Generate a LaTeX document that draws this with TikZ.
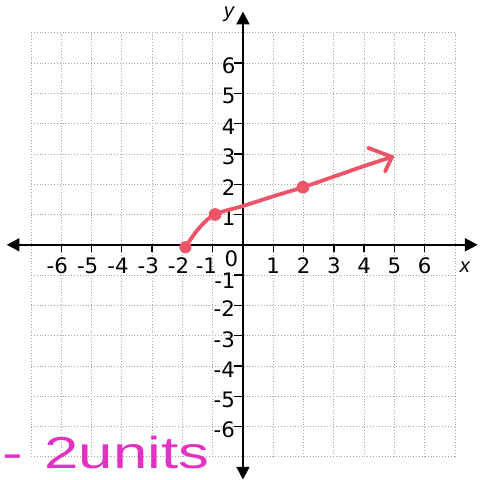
\documentclass[tikz,border=0pt]{standalone}
\usepackage{fontspec}
\setmainfont{DejaVu Sans}
\newfontfamily\handfont{Liberation Sans}
\usetikzlibrary{arrows.meta}
\definecolor{penred}{RGB}{238,84,104}
\definecolor{penpink}{RGB}{226,50,196}
\begin{document}
\begin{tikzpicture}[
  gridline/.style={gray!70, dotted, line width=0.7pt},
  axis/.style={black, line width=2.2pt, -{Triangle[length=12pt,width=12pt]}},
  tickmark/.style={black, line width=1.3pt},
  lbl/.style={font=\fontsize{20}{20}\selectfont, inner sep=0pt},
  pen/.style={penred, line width=3.6pt, line cap=round, line join=round},
  pendot/.style={fill=penred, draw=none}
]
\useasboundingbox (-8.02,-7.76) rectangle (7.89,8.08);
% grid
\foreach \k in {-7,...,7} {
  \draw[gridline] (\k,-7) -- (\k,7);
  \draw[gridline] (-7,\k) -- (7,\k);
}
% axes
\coordinate (o) at (0,0);
\coordinate (xl) at (-7.8,0);
\coordinate (xr) at (7.75,0);
\coordinate (yb) at (0,-7.75);
\coordinate (yt) at (0,7.7);
\draw[axis] (o) -- (xr);
\draw[axis] (o) -- (xl);
\draw[axis] (o) -- (yt);
\draw[axis] (o) -- (yb);
% ticks and labels
\foreach \k in {1,...,6} {
  \draw[tickmark] (\k,0) -- (\k,-0.24);
  \draw[tickmark] (-\k,0) -- (-\k,-0.24);
  \draw[tickmark] (0,\k) -- (-0.28,\k);
  \draw[tickmark] (0,-\k) -- (-0.28,-\k);
  \node[lbl] (xp\k) at (\k,-0.7) {\k};
  \node[lbl, anchor=east] (yp\k) at (-0.24,\k-0.1) {\k};
}
\foreach \k in {2,...,6} {
  \node[lbl] (xn\k) at (-\k,-0.7) {\llap{-}\k};
  \node[lbl, anchor=east] (yn\k) at (-0.26,-\k-0.12) {\llap{-}\k};
}
\node[lbl] (xn1) at (-1.08,-0.68) {\llap{-}1};
\node[lbl, anchor=east] (yn1) at (-0.24,-1.2) {\llap{-}1};
\node[lbl] (zero) at (-0.38,-0.45) {0};
\node[font=\fontsize{19}{19}\selectfont\itshape\handfont, inner sep=0pt] (ylab) at (-0.46,7.62) {y};
\node[font=\fontsize{19}{19}\selectfont\itshape\handfont, inner sep=0pt] (xlab) at (7.33,-0.75) {x};
% red curve
\coordinate (c0) at (-1.9,-0.08);
\coordinate (p1) at (-0.92,1.0);
\coordinate (p2) at (1.98,1.9);
\coordinate (tip) at (4.92,2.9);
\coordinate (h1) at (4.13,3.2);
\coordinate (h2) at (4.69,2.42);
\draw[pen] plot[smooth, tension=0.6] coordinates {(-1.9,-0.08) (-1.45,0.55) (-0.92,1.0) (0,1.28) (1,1.6) (1.98,1.9) (3,2.25) (4,2.6) (4.92,2.9)};
\draw[pen] (h1) -- (tip) -- (h2);
\fill[pendot] (c0) circle (0.2);
\fill[pendot] (p1) circle (0.21);
\fill[pendot] (p2) circle (0.21);
% handwritten note
\node[anchor=base west, inner sep=0pt, text=penpink, font=\fontsize{42}{42}\selectfont\handfont] (note) at (-7.95,-7.38) {\scalebox{1.38}[1]{-\hspace{0.35em}2units}};
\end{tikzpicture}
\end{document}
